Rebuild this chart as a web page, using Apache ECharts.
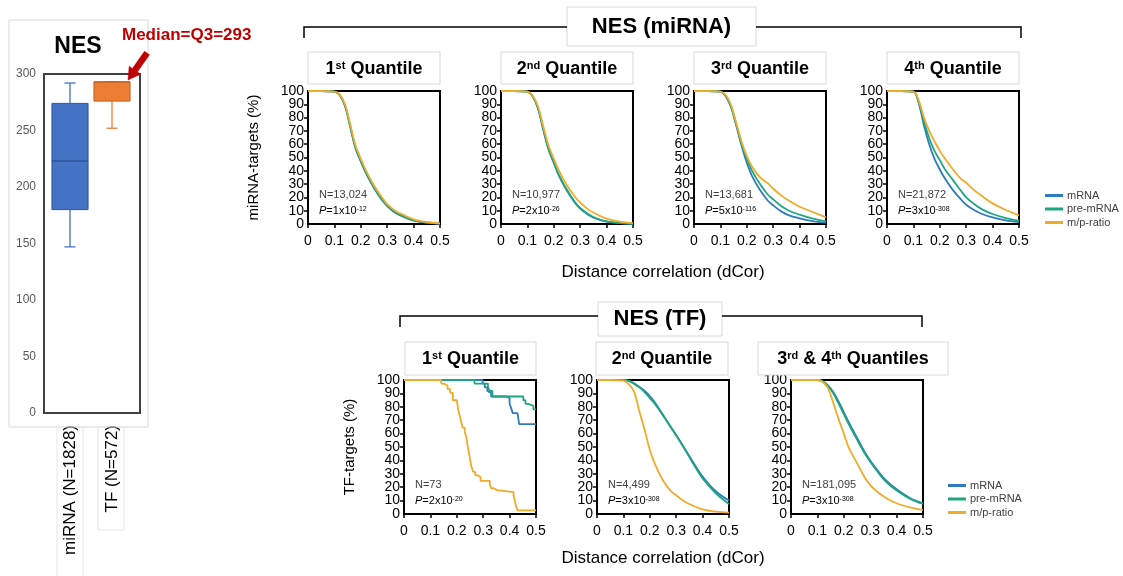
<!DOCTYPE html>
<html><head><meta charset="utf-8">
<script src="https://cdn.jsdelivr.net/npm/echarts@6/dist/echarts.min.js"></script>
<style>html,body{margin:0;padding:0;background:#fff}#c{width:1123px;height:576px}</style>
</head><body><div id="c"></div><script>
// ---------- DATA ----------
const boxCategories = ['miRNA (N=1828)', 'TF (N=572)'];
// [min, Q1, median, Q3, max]
const boxMiRNA = [147, 180, 223, 274, 292];
const boxTF = [252, 276, 293, 293, 293];

const seriesNames = ['mRNA', 'pre-mRNA', 'm/p-ratio'];
const dcor = [0, 0.05, 0.1, 0.12, 0.14, 0.16, 0.18, 0.2, 0.22, 0.25, 0.28, 0.3, 0.33, 0.36, 0.4, 0.45, 0.5];

const miQ1_mRNA  = [100,100,99.5,97,89,73,57,47,38,27,18,13.5,8.5,5.5,2.5,1,0.3];
const miQ1_pre   = [100,100,99.5,97,89,73.5,57.5,47.5,38.5,27.5,18.5,14,9,5.8,2.7,1.1,0.3];
const miQ1_ratio = [100,100,99.5,97.5,90,75,59,49,40,29,20,15,10,7,3.5,1.5,0.5];

const miQ2_mRNA  = [100,100,99.5,96,87,71,56,46,36,25,16,11.5,7,4,1.8,0.7,0.2];
const miQ2_pre   = [100,100,99.5,96,87,71.5,56.5,46.5,36.5,25.5,16.5,12,7.5,4.3,2,0.8,0.2];
const miQ2_ratio = [100,100,99.5,96.5,88.5,73.5,59,49,40,29,20.5,16,11,7.5,4,1.8,0.6];

const miQ3_mRNA  = [100,100,99.5,96,88,74,59,46,36,25.5,17.5,14,9.5,6.5,4.3,2.2,1];
const miQ3_pre   = [100,100,99.5,96.5,88.5,75,60.5,49,40,30,22,18.5,13.5,10,7,4,2];
const miQ3_ratio = [100,100,99.5,97,89.5,76,62,51,43,35,30.5,26.5,21.5,17.5,13,9,5];

const miQ4_mRNA  = [100,100,99.5,91,74,60,49,41,34,25.5,18.5,14.5,10.5,7.5,5,2.8,1.5];
const miQ4_pre   = [100,100,99.5,92,77,64.5,55,48,41,33,25,20,15,11,7.5,4.5,2.5];
const miQ4_ratio = [100,100,99.5,93,80,70,62,55,49,41,34,31,25.5,21,15.5,10.5,6.5];

// TF 1st quantile (step curves, N=73)
const tfQ1_mRNA_x  = [0,0.298,0.306,0.316,0.322,0.33,0.39,0.4,0.405,0.412,0.43,0.436,0.5];
const tfQ1_mRNA_y  = [100,97.3,94.5,91.8,90.4,87.7,86.3,82.2,79.5,75.3,74,67.1,67.1];
const tfQ1_pre_x   = [0,0.267,0.318,0.325,0.335,0.452,0.46,0.47,0.49,0.5];
const tfQ1_pre_y   = [100,97.3,94.5,91.8,87.7,84.9,82.2,80.8,78.1,78.1];
const tfQ1_ratio_x = [0,0.141,0.15,0.165,0.175,0.185,0.2,0.205,0.212,0.217,0.222,0.23,0.236,0.24,0.245,0.25,0.255,0.262,0.27,0.28,0.29,0.325,0.33,0.34,0.352,0.415,0.42,0.425,0.43,0.5];
const tfQ1_ratio_y = [100,97.3,95.9,93.2,90.4,84.9,83.6,78.1,72.6,68.5,64.4,61.6,57.5,52.1,46.6,41.1,35.6,31.5,28.8,27.4,24.7,21.9,19.2,17.8,16.4,13.7,9.6,5.5,2.7,2.7];

const tfQ2_mRNA  = [100,100,100,99.3,97.5,95,92,88,83,74,65,59,49.5,40,28,17,10];
const tfQ2_pre   = [100,100,100,99.3,97.3,94.5,91,86.5,82,73.5,64.5,58.5,49,39,26.5,15.5,7.5];
const tfQ2_ratio = [100,100,99.5,97,91.5,77,63,48,37,25,17,14,9.5,6.5,3.5,1.8,1];

const tfQ34_mRNA  = [100,100,100,99,96,91,84,76,68,57,46,40,32,25,18.5,12,8];
const tfQ34_pre   = [100,100,100,99,95.5,90,82.5,74.5,66.5,55.5,45,39,31,24,17.5,11.5,7.5];
const tfQ34_ratio = [100,100,100,98.5,94,83,71,60,49,38,27,21.5,16,12,8,5,3];

const xTicks = [0, 0.1, 0.2, 0.3, 0.4, 0.5];
const yTicksPct = [0, 10, 20, 30, 40, 50, 60, 70, 80, 90, 100];
const yTicksBox = [0, 50, 100, 150, 200, 250, 300];

// ---------- STYLE / LAYOUT ----------
const FONT = "'Liberation Sans', Arial, sans-serif";
const colors = ['#2E7BC0', '#1FA67F', '#F0AB28'];
const pair = (xs, ys) => xs.map((x, i) => [x, ys[i]]);

const panels = [
  {left:308, top:91, w:132, h:133, title:['1','st',' Quantile'], N:'N=13,024', P:['1x10','-12'], data:[miQ1_mRNA,miQ1_pre,miQ1_ratio]},
  {left:501, top:91, w:132, h:133, title:['2','nd',' Quantile'], N:'N=10,977', P:['2x10','-26'], data:[miQ2_mRNA,miQ2_pre,miQ2_ratio]},
  {left:694, top:91, w:132, h:133, title:['3','rd',' Quantile'], N:'N=13,681', P:['5x10','-116'], data:[miQ3_mRNA,miQ3_pre,miQ3_ratio]},
  {left:887, top:91, w:132, h:133, title:['4','th',' Quantile'], N:'N=21,872', P:['3x10','-308'], data:[miQ4_mRNA,miQ4_pre,miQ4_ratio]},
  {left:404, top:380, w:132, h:134, title:['1','st',' Quantile'], N:'N=73', P:['2x10','-20'], step:true,
    tb:[405,131], data:[pair(tfQ1_mRNA_x,tfQ1_mRNA_y), pair(tfQ1_pre_x,tfQ1_pre_y), pair(tfQ1_ratio_x,tfQ1_ratio_y)]},
  {left:597, top:380, w:132, h:134, title:['2','nd',' Quantile'], N:'N=4,499', P:['3x10','-308'], tb:[596,132], data:[tfQ2_mRNA,tfQ2_pre,tfQ2_ratio]},
  {left:791, top:380, w:132, h:134, title:['3','rd',' & 4','th',' Quantiles'], N:'N=181,095', P:['3x10','-308'], tb:[758,190], data:[tfQ34_mRNA,tfQ34_pre,tfQ34_ratio]},
];

// box-plot grid (frame drawn as decoration at 44..140)
const grids = [{left:49, top:74, width:84, height:339}];
const xAxes = [{gridIndex:0, type:'category', data:boxCategories,
  axisLine:{show:false}, axisTick:{show:false},
  axisLabel:{rotate:90, fontSize:17, color:'#000', fontFamily:FONT, margin:12, interval:0}}];
const yAxes = [{gridIndex:0, type:'value', min:0, max:300, interval:50,
  axisLine:{show:false}, axisTick:{show:false}, splitLine:{show:false},
  axisLabel:{fontSize:12, color:'#595959', fontFamily:FONT, margin:13, showMinLabel:true, showMaxLabel:true}}];
const series = [{
  type:'custom', xAxisIndex:0, yAxisIndex:0, z:5,
  data:[[0, ...boxMiRNA], [1, ...boxTF]],
  renderItem(params, api) {
    const c = api.value(0);
    const v = [1,2,3,4,5].map(i => api.value(i));
    const p = v.map(val => api.coord([c, val]));
    const w = api.size([1, 0])[0] * 0.86;
    const cap = 11;
    const fill = params.dataIndex === 0 ? '#4472C4' : '#ED7D31';
    const edge = params.dataIndex === 0 ? '#2F5597' : '#C0612A';
    const x = p[0][0];
    const ln = (x1,y1,x2,y2,col) => ({type:'line', shape:{x1,y1,x2,y2}, style:{stroke:col, lineWidth:1.3}});
    return {type:'group', children:[
      ln(x, p[3][1], x, p[4][1], fill), ln(x, p[1][1], x, p[0][1], fill),
      ln(x-cap/2, p[4][1], x+cap/2, p[4][1], fill), ln(x-cap/2, p[0][1], x+cap/2, p[0][1], fill),
      {type:'rect', shape:{x:x-w/2, y:p[3][1], width:w, height:p[1][1]-p[3][1]}, style:{fill, stroke:edge, lineWidth:1}},
      ln(x-w/2, p[2][1], x+w/2, p[2][1], edge)
    ]};
  }
}];

const yLabelStyle = {fontSize:14, color:'#000', fontFamily:FONT, margin:4};
panels.forEach((pn, k) => {
  const gi = k + 1;
  grids.push({left:pn.left, top:pn.top, width:pn.w, height:pn.h, show:true, borderColor:'#000', borderWidth:2, backgroundColor:'transparent'});
  xAxes.push({gridIndex:gi, type:'value', min:0, max:0.5, interval:0.1,
    axisLine:{lineStyle:{color:'#000', width:2}}, axisTick:{length:4, lineStyle:{color:'#000', width:1.5}},
    splitLine:{show:false},
    axisLabel:{fontSize:14, color:'#000', fontFamily:FONT, margin:10, showMinLabel:true, showMaxLabel:true}});
  // main y axis: ticks every 10, inner labels 10..90
  const ya = {gridIndex:gi, type:'value', min:0, max:100, interval:10,
    axisLine:{lineStyle:{color:'#000', width:2}}, axisTick:{length:4, lineStyle:{color:'#000', width:1.5}},
    splitLine:{show:false},
    axisLabel:Object.assign({showMinLabel:false, showMaxLabel:false}, yLabelStyle)};
  if (k === 0) Object.assign(ya, {name:'miRNA-targets (%)', nameLocation:'middle', nameGap:47, nameRotate:90,
    nameTextStyle:{fontSize:15, color:'#000', fontFamily:FONT}});
  if (k === 4) Object.assign(ya, {name:'TF-targets (%)', nameLocation:'middle', nameGap:47, nameRotate:90,
    nameTextStyle:{fontSize:15, color:'#000', fontFamily:FONT}});
  const yi = yAxes.length;
  yAxes.push(ya);
  // companion y axis on same scale showing the end labels 0 and 100
  yAxes.push({gridIndex:gi, type:'value', position:'left', min:0, max:100, interval:100,
    axisLine:{show:false}, axisTick:{show:false}, splitLine:{show:false},
    axisLabel:Object.assign({showMinLabel:true, showMaxLabel:true}, yLabelStyle)});
  pn.data.forEach((d, si) => {
    const s = {name:seriesNames[si], type:'line', xAxisIndex:gi, yAxisIndex:yi,
      showSymbol:false, symbol:'none', color:colors[si],
      lineStyle:{width:1.8, color:colors[si]},
      data: pn.step ? d : dcor.map((x, i) => [x, d[i]])};
    if (pn.step) s.step = 'end'; else s.smooth = 0.35;
    series.push(s);
  });
});

// ---------- GRAPHIC DECORATION ----------
const g = [];
const text = (x, y, txt, opt) => g.push(Object.assign({type:'text', x, y, z:10,
  style:Object.assign({text:txt, fontFamily:FONT, fill:'#000', align:'left', verticalAlign:'middle'}, opt)}));
const rect = (x, y, w, h, stroke, fill) => g.push({type:'rect', z:1, shape:{x, y, width:w, height:h},
  style:{fill:fill || '#fff', stroke:stroke || '#d9d9d9', lineWidth:1}});
const poly = (pts, w) => g.push({type:'polyline', z:5, shape:{points:pts}, style:{stroke:'#000', lineWidth:w || 1.5, fill:null}});

// box plot frame, plot border & label boxes
g.push({type:'rect', z:0, shape:{x:9, y:20, width:139, height:407}, style:{fill:'none', stroke:'#d9d9d9', lineWidth:1}});
g.push({type:'rect', z:0, shape:{x:44, y:74, width:96, height:339}, style:{fill:'none', stroke:'#404040', lineWidth:2}});
rect(57, 427, 26, 160, '#e6e6e6', 'none');
rect(98, 427, 26, 103, '#e6e6e6', 'none');
text(78, 47, 'NES', {align:'center', fontSize:23, fontWeight:'bold'});
text(122, 35, 'Median=Q3=293', {fontSize:17, fontWeight:'bold', fill:'#C00000'});
g.push({type:'polygon', z:10, shape:{points:[[144.5,51.3],[132.4,68.5],[129.2,66.2],[128,80],[140.6,74.2],[137.4,71.9],[149.5,54.7]]},
  style:{fill:'#C00000', stroke:'#C00000', lineWidth:0.5}});

// brackets and group titles
poly([[304,38],[304,27],[567,27]]); poly([[756,27],[1021,27],[1021,38]]);
rect(567, 7, 189, 39);
text(661.5, 27, 'NES (miRNA)', {align:'center', fontSize:22, fontWeight:'bold'});
poly([[400,327],[400,316],[598,316]]); poly([[722,316],[922,316],[922,327]]);
rect(598, 302, 124, 34);
text(660, 319, 'NES (TF)', {align:'center', fontSize:22, fontWeight:'bold'});

// panel titles and annotations
const richTitle = {n:{fontSize:18, fontWeight:'bold', fontFamily:FONT, color:'#000'},
                   s:{fontSize:11, fontWeight:'bold', fontFamily:FONT, verticalAlign:'top', color:'#000'}};
const richP = {i:{fontSize:11, fontStyle:'italic', fontFamily:FONT, color:'#404040'},
               t:{fontSize:11, fontFamily:FONT, color:'#404040'},
               s:{fontSize:7, fontFamily:FONT, verticalAlign:'top', color:'#404040'}};
panels.forEach((pn, k) => {
  const top = k < 4;
  const tbx = pn.tb ? pn.tb[0] : pn.left, tbw = pn.tb ? pn.tb[1] : pn.w;
  const tby = top ? 52 : 342, tbh = top ? 32 : 33;
  rect(tbx, tby, tbw, tbh);
  const parts = pn.title.map((t, i) => (i % 2 === 0 ? '{n|' : '{s|') + t + '}').join('');
  text(tbx + tbw/2, tby + tbh/2 + 1, parts, {align:'center', rich:richTitle});
  const bottom = pn.top + pn.h;
  text(pn.left + 11, bottom - 29, pn.N, {fontSize:11, fill:'#404040'});
  text(pn.left + 11, bottom - 13, '{i|P}{t|=' + pn.P[0] + '}{s|' + pn.P[1] + '}', {rich:richP});
});
text(663, 272, 'Distance correlation (dCor)', {align:'center', fontSize:17});
text(663, 558, 'Distance correlation (dCor)', {align:'center', fontSize:17});

const legendBase = {orient:'vertical', icon:'rect', itemWidth:18, itemHeight:3, itemGap:2.5,
  data:seriesNames, textStyle:{fontSize:11, color:'#404040', fontFamily:FONT, padding:[0,0,0,-1]}, padding:0};

const chart = echarts.init(document.getElementById('c'), null, {renderer:'canvas'});
chart.setOption({
  animation:false,
  backgroundColor:'#fff',
  grid:grids, xAxis:xAxes, yAxis:yAxes, series,
  legend:[Object.assign({left:1045, top:190}, legendBase), Object.assign({left:948, top:480}, legendBase)],
  graphic:g
});
</script></body></html>
